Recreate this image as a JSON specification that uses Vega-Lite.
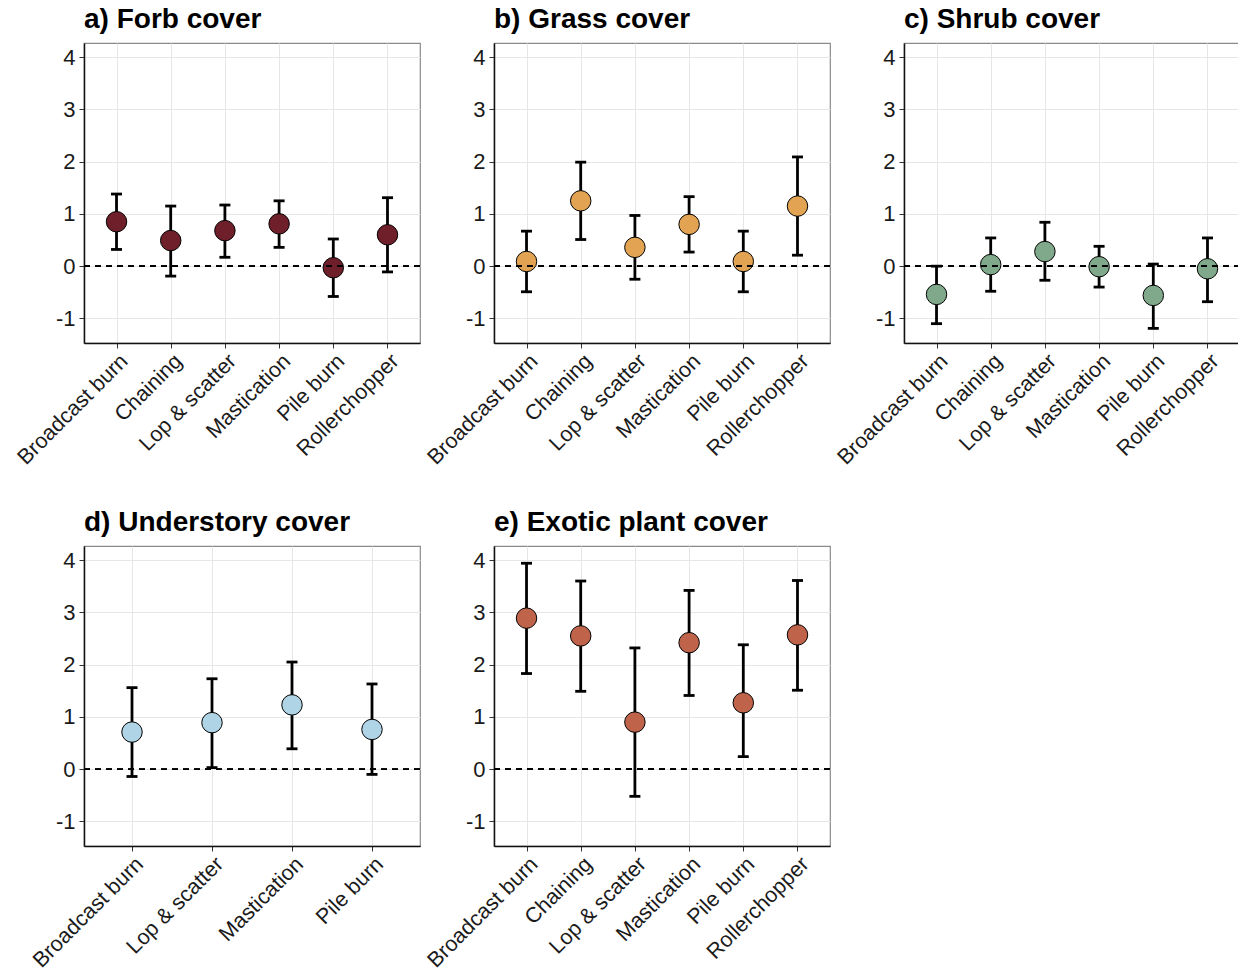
{
  "$schema": "https://vega.github.io/schema/vega-lite/v6.json",
  "background": "white",
  "padding": {"left": 12, "top": 5, "right": 0, "bottom": 0},
  "config": {
    "font": "Liberation Sans",
    "view": {"stroke": "#8a8a8a", "strokeWidth": 1.2},
    "axis": {
      "labelFont": "Liberation Sans",
      "labelFontSize": 22,
      "labelColor": "#1a1a1a",
      "gridColor": "#e6e6e6",
      "gridWidth": 1,
      "tickColor": "#333333",
      "tickSize": 5,
      "domainColor": "#111111",
      "domainWidth": 1.5,
      "title": null
    },
    "title": {"font": "Liberation Sans", "fontSize": 28, "fontWeight": "bold", "color": "#000000", "anchor": "start", "frame": "group", "baseline": "alphabetic", "offset": 9}
  },
  "data": {"values": [
    {"panel": "a", "treatment": "Broadcast burn", "est": 0.85, "lo": 0.32, "hi": 1.38},
    {"panel": "a", "treatment": "Chaining", "est": 0.49, "lo": -0.19, "hi": 1.15},
    {"panel": "a", "treatment": "Lop & scatter", "est": 0.68, "lo": 0.17, "hi": 1.17},
    {"panel": "a", "treatment": "Mastication", "est": 0.81, "lo": 0.36, "hi": 1.25},
    {"panel": "a", "treatment": "Pile burn", "est": -0.03, "lo": -0.58, "hi": 0.52},
    {"panel": "a", "treatment": "Rollerchopper", "est": 0.60, "lo": -0.11, "hi": 1.31},
    {"panel": "b", "treatment": "Broadcast burn", "est": 0.09, "lo": -0.49, "hi": 0.67},
    {"panel": "b", "treatment": "Chaining", "est": 1.25, "lo": 0.51, "hi": 1.99},
    {"panel": "b", "treatment": "Lop & scatter", "est": 0.36, "lo": -0.25, "hi": 0.97},
    {"panel": "b", "treatment": "Mastication", "est": 0.80, "lo": 0.27, "hi": 1.33},
    {"panel": "b", "treatment": "Pile burn", "est": 0.09, "lo": -0.49, "hi": 0.67},
    {"panel": "b", "treatment": "Rollerchopper", "est": 1.15, "lo": 0.21, "hi": 2.09},
    {"panel": "c", "treatment": "Broadcast burn", "est": -0.54, "lo": -1.10, "hi": 0.0},
    {"panel": "c", "treatment": "Chaining", "est": 0.03, "lo": -0.48, "hi": 0.54},
    {"panel": "c", "treatment": "Lop & scatter", "est": 0.28, "lo": -0.27, "hi": 0.84},
    {"panel": "c", "treatment": "Mastication", "est": -0.01, "lo": -0.40, "hi": 0.38},
    {"panel": "c", "treatment": "Pile burn", "est": -0.56, "lo": -1.19, "hi": 0.04},
    {"panel": "c", "treatment": "Rollerchopper", "est": -0.05, "lo": -0.68, "hi": 0.54},
    {"panel": "d", "treatment": "Broadcast burn", "est": 0.71, "lo": -0.14, "hi": 1.56},
    {"panel": "d", "treatment": "Lop & scatter", "est": 0.89, "lo": 0.03, "hi": 1.73},
    {"panel": "d", "treatment": "Mastication", "est": 1.23, "lo": 0.39, "hi": 2.05},
    {"panel": "d", "treatment": "Pile burn", "est": 0.76, "lo": -0.10, "hi": 1.63},
    {"panel": "e", "treatment": "Broadcast burn", "est": 2.89, "lo": 1.83, "hi": 3.94},
    {"panel": "e", "treatment": "Chaining", "est": 2.55, "lo": 1.49, "hi": 3.60},
    {"panel": "e", "treatment": "Lop & scatter", "est": 0.90, "lo": -0.52, "hi": 2.32},
    {"panel": "e", "treatment": "Mastication", "est": 2.42, "lo": 1.41, "hi": 3.42},
    {"panel": "e", "treatment": "Pile burn", "est": 1.27, "lo": 0.24, "hi": 2.38},
    {"panel": "e", "treatment": "Rollerchopper", "est": 2.57, "lo": 1.51, "hi": 3.61}
  ]},
  "columns": 3,
  "bounds": "flush",
  "spacing": {"row": 203, "column": 74},
  "concat": [
    {
      "title": "a) Forb cover",
      "width": 336, "height": 300,
      "transform": [{"filter": "datum.panel === 'a'"}],
      "encoding": {
        "x": {"field": "treatment", "type": "nominal", "sort": null, "scale": {"type": "point", "padding": 0.6}, "axis": {"labelAngle": -45, "labelPadding": 2, "labelFontSize": 21.5, "grid": true, "domain": true}},
        "y": {"type": "quantitative", "scale": {"domain": [-1.47, 4.27], "nice": false, "zero": false}, "axis": {"values": [-1, 0, 1, 2, 3, 4], "grid": true, "labelPadding": 4, "labelExpr": "replace(datum.label, '\u2212', '-')"}}
      },
      "layer": [
        {"mark": {"type": "rule", "color": "#000000", "strokeWidth": 2.8}, "encoding": {"y": {"field": "lo", "type": "quantitative"}, "y2": {"field": "hi"}}},
        {"mark": {"type": "tick", "color": "#000000", "size": 11, "thickness": 2.8, "opacity": 1}, "encoding": {"y": {"field": "lo", "type": "quantitative"}}},
        {"mark": {"type": "tick", "color": "#000000", "size": 11, "thickness": 2.8, "opacity": 1}, "encoding": {"y": {"field": "hi", "type": "quantitative"}}},
        {"mark": {"type": "point", "filled": true, "opacity": 1, "size": 420, "fill": "#6E1F2A", "stroke": "#000000", "strokeWidth": 1}, "encoding": {"y": {"field": "est", "type": "quantitative"}}},
        {"mark": {"type": "rule", "color": "#000000", "strokeWidth": 1.4, "strokeDash": [6, 5]}, "encoding": {"y": {"datum": 0}, "x": {"value": 0}, "x2": {"value": 336}}}
      ]
    },
    {
      "title": "b) Grass cover",
      "width": 336, "height": 300,
      "transform": [{"filter": "datum.panel === 'b'"}],
      "encoding": {
        "x": {"field": "treatment", "type": "nominal", "sort": null, "scale": {"type": "point", "padding": 0.6}, "axis": {"labelAngle": -45, "labelPadding": 2, "labelFontSize": 21.5, "grid": true, "domain": true}},
        "y": {"type": "quantitative", "scale": {"domain": [-1.47, 4.27], "nice": false, "zero": false}, "axis": {"values": [-1, 0, 1, 2, 3, 4], "grid": true, "labelPadding": 4, "labelExpr": "replace(datum.label, '\u2212', '-')"}}
      },
      "layer": [
        {"mark": {"type": "rule", "color": "#000000", "strokeWidth": 2.8}, "encoding": {"y": {"field": "lo", "type": "quantitative"}, "y2": {"field": "hi"}}},
        {"mark": {"type": "tick", "color": "#000000", "size": 11, "thickness": 2.8, "opacity": 1}, "encoding": {"y": {"field": "lo", "type": "quantitative"}}},
        {"mark": {"type": "tick", "color": "#000000", "size": 11, "thickness": 2.8, "opacity": 1}, "encoding": {"y": {"field": "hi", "type": "quantitative"}}},
        {"mark": {"type": "point", "filled": true, "opacity": 1, "size": 420, "fill": "#E2A453", "stroke": "#000000", "strokeWidth": 1}, "encoding": {"y": {"field": "est", "type": "quantitative"}}},
        {"mark": {"type": "rule", "color": "#000000", "strokeWidth": 1.4, "strokeDash": [6, 5]}, "encoding": {"y": {"datum": 0}, "x": {"value": 0}, "x2": {"value": 336}}}
      ]
    },
    {
      "title": "c) Shrub cover",
      "width": 336, "height": 300,
      "transform": [{"filter": "datum.panel === 'c'"}],
      "encoding": {
        "x": {"field": "treatment", "type": "nominal", "sort": null, "scale": {"type": "point", "padding": 0.6}, "axis": {"labelAngle": -45, "labelPadding": 2, "labelFontSize": 21.5, "grid": true, "domain": true}},
        "y": {"type": "quantitative", "scale": {"domain": [-1.47, 4.27], "nice": false, "zero": false}, "axis": {"values": [-1, 0, 1, 2, 3, 4], "grid": true, "labelPadding": 4, "labelExpr": "replace(datum.label, '\u2212', '-')"}}
      },
      "layer": [
        {"mark": {"type": "rule", "color": "#000000", "strokeWidth": 2.8}, "encoding": {"y": {"field": "lo", "type": "quantitative"}, "y2": {"field": "hi"}}},
        {"mark": {"type": "tick", "color": "#000000", "size": 11, "thickness": 2.8, "opacity": 1}, "encoding": {"y": {"field": "lo", "type": "quantitative"}}},
        {"mark": {"type": "tick", "color": "#000000", "size": 11, "thickness": 2.8, "opacity": 1}, "encoding": {"y": {"field": "hi", "type": "quantitative"}}},
        {"mark": {"type": "point", "filled": true, "opacity": 1, "size": 420, "fill": "#7FA98A", "stroke": "#000000", "strokeWidth": 1}, "encoding": {"y": {"field": "est", "type": "quantitative"}}},
        {"mark": {"type": "rule", "color": "#000000", "strokeWidth": 1.4, "strokeDash": [6, 5]}, "encoding": {"y": {"datum": 0}, "x": {"value": 0}, "x2": {"value": 336}}}
      ]
    },
    {
      "title": "d) Understory cover",
      "width": 336, "height": 300,
      "transform": [{"filter": "datum.panel === 'd'"}],
      "encoding": {
        "x": {"field": "treatment", "type": "nominal", "sort": null, "scale": {"type": "point", "padding": 0.6}, "axis": {"labelAngle": -45, "labelPadding": 2, "labelFontSize": 21.5, "grid": true, "domain": true}},
        "y": {"type": "quantitative", "scale": {"domain": [-1.47, 4.27], "nice": false, "zero": false}, "axis": {"values": [-1, 0, 1, 2, 3, 4], "grid": true, "labelPadding": 4, "labelExpr": "replace(datum.label, '\u2212', '-')"}}
      },
      "layer": [
        {"mark": {"type": "rule", "color": "#000000", "strokeWidth": 2.8}, "encoding": {"y": {"field": "lo", "type": "quantitative"}, "y2": {"field": "hi"}}},
        {"mark": {"type": "tick", "color": "#000000", "size": 11, "thickness": 2.8, "opacity": 1}, "encoding": {"y": {"field": "lo", "type": "quantitative"}}},
        {"mark": {"type": "tick", "color": "#000000", "size": 11, "thickness": 2.8, "opacity": 1}, "encoding": {"y": {"field": "hi", "type": "quantitative"}}},
        {"mark": {"type": "point", "filled": true, "opacity": 1, "size": 420, "fill": "#AFD4E6", "stroke": "#000000", "strokeWidth": 1}, "encoding": {"y": {"field": "est", "type": "quantitative"}}},
        {"mark": {"type": "rule", "color": "#000000", "strokeWidth": 1.4, "strokeDash": [6, 5]}, "encoding": {"y": {"datum": 0}, "x": {"value": 0}, "x2": {"value": 336}}}
      ]
    },
    {
      "title": "e) Exotic plant cover",
      "width": 336, "height": 300,
      "transform": [{"filter": "datum.panel === 'e'"}],
      "encoding": {
        "x": {"field": "treatment", "type": "nominal", "sort": null, "scale": {"type": "point", "padding": 0.6}, "axis": {"labelAngle": -45, "labelPadding": 2, "labelFontSize": 21.5, "grid": true, "domain": true}},
        "y": {"type": "quantitative", "scale": {"domain": [-1.47, 4.27], "nice": false, "zero": false}, "axis": {"values": [-1, 0, 1, 2, 3, 4], "grid": true, "labelPadding": 4, "labelExpr": "replace(datum.label, '\u2212', '-')"}}
      },
      "layer": [
        {"mark": {"type": "rule", "color": "#000000", "strokeWidth": 2.8}, "encoding": {"y": {"field": "lo", "type": "quantitative"}, "y2": {"field": "hi"}}},
        {"mark": {"type": "tick", "color": "#000000", "size": 11, "thickness": 2.8, "opacity": 1}, "encoding": {"y": {"field": "lo", "type": "quantitative"}}},
        {"mark": {"type": "tick", "color": "#000000", "size": 11, "thickness": 2.8, "opacity": 1}, "encoding": {"y": {"field": "hi", "type": "quantitative"}}},
        {"mark": {"type": "point", "filled": true, "opacity": 1, "size": 420, "fill": "#BF644A", "stroke": "#000000", "strokeWidth": 1}, "encoding": {"y": {"field": "est", "type": "quantitative"}}},
        {"mark": {"type": "rule", "color": "#000000", "strokeWidth": 1.4, "strokeDash": [6, 5]}, "encoding": {"y": {"datum": 0}, "x": {"value": 0}, "x2": {"value": 336}}}
      ]
    }
  ]
}
